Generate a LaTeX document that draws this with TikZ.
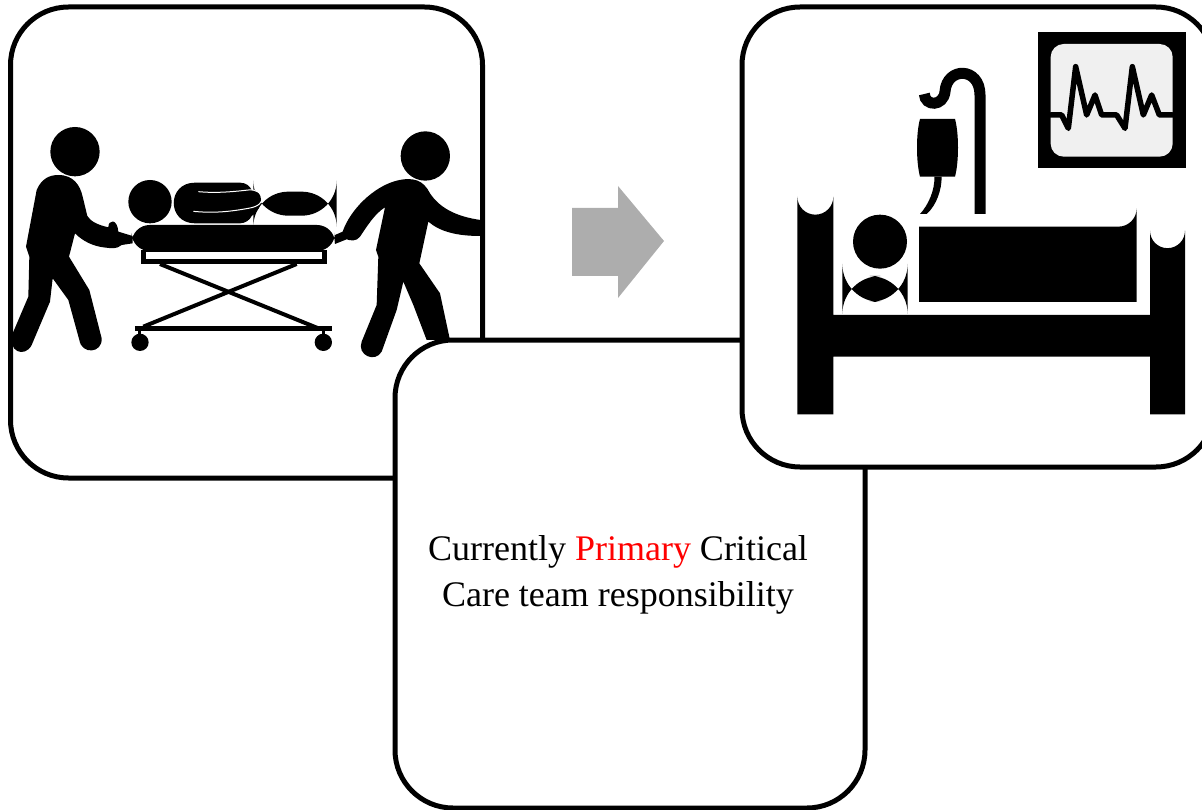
\documentclass[tikz,border=0pt]{standalone}
\usepackage{fontspec}
\setmainfont{Liberation Serif}
\usepackage{tikz}
\usepackage{xcolor}
\usetikzlibrary{positioning}
\definecolor{arrowgray}{HTML}{ADADAD}
\definecolor{screengray}{HTML}{F0F0F0}

\begin{document}
\begin{tikzpicture}[x=1pt,y=-1pt]
        \tikzstyle{panel}=[draw=black,line width=5pt,fill=white,rounded corners=58pt,inner sep=0pt]
        \tikzstyle{figure}=[fill=black,draw=none]
        \tikzstyle{tube}=[draw=black,line cap=round,line join=round]
        \useasboundingbox (0,0) rectangle (1202,810);
        % left panel
        \node [panel,minimum width=472pt,minimum height=471pt] (stretcher) at (246.5,242.5) {};
        \begin{scope}[shift={(0,110)},scale=1/3]
         \fill [figure] (225,125) circle (74);
         \fill [figure] (450,275) circle (65);
         \fill [figure] (110,240) .. controls (125,205) and (150,195) .. (175,195) .. controls (220,195) and (240,225) .. (248,260) -- (262,318) .. controls (272,335) and (295,345) .. (325,352) .. controls (325,328) and (352,325) .. (355,365) -- (398,378) -- (398,400) -- (365,405) .. controls (350,418) and (335,415) .. (310,412) .. controls (280,408) and (250,395) .. (225,370) -- (207,440) -- (268,540) -- (305,685) .. controls (308,730) and (245,735) .. (238,690) -- (205,570) -- (158,505) -- (150,575) -- (95,705) .. controls (75,745) and (20,725) .. (38,670) -- (85,560) -- (88,440) -- (78,410) -- cycle;
         \fill [figure] (1190,212) .. controls (1240,200) and (1270,210) .. (1290,250) .. controls (1320,295) and (1370,320) .. (1442,330) -- (1442,378) .. controls (1370,378) and (1320,365) .. (1285,335) -- (1258,460) -- (1320,550) -- (1350,690) -- (1280,690) -- (1240,585) -- (1210,515) -- (1190,600) -- (1145,725) .. controls (1125,760) and (1070,735) .. (1085,695) -- (1130,585) -- (1135,440) -- (1128,420) -- (1155,292) .. controls (1125,310) and (1100,350) .. (1080,380) .. controls (1070,395) and (1050,392) .. (1040,388) -- (1005,402) -- (1005,375) -- (1028,365) .. controls (1050,300) and (1120,230) .. (1190,212);
         \fill [figure] (1276,138) circle (74);
         % stretcher
         \fill [figure,rounded corners=18pt] (395,345) rectangle (1005,423);
         \fill [figure] (422,420) rectangle (980,462);
         \fill [white] (437,427) rectangle (965,448);
         \draw [line width=4pt] (480,462) -- (955,655);
         \draw [line width=4pt] (890,462) -- (430,650);
         \draw [line width=4.5pt] (405,655) -- (997,655);
         \draw [line width=3pt] (420,655) -- (420,680);
         \draw [line width=3pt] (970,655) -- (970,680);
         \fill [figure] (420,697) circle (26);
         \fill [figure] (970,697) circle (26);
         % patient
         \fill [figure,rounded corners=35pt] (760,245) rectangle (1010,317);
         \fill [figure] (585,218) -- (720,218) .. controls (740,218) and (750,230) .. (755,240) .. controls (790,240) and (795,290) .. (755,318) .. controls (750,330) and (735,340) .. (720,340) -- (585,340) .. controls (500,340) and (500,218) .. (585,218);
         \draw [white,line width=1pt] (595,245) .. controls (650,250) and (700,245) .. (745,240) .. controls (790,235) and (810,285) .. (745,295) .. controls (690,305) and (640,310) .. (580,304);
        \end{scope}
        % arrow
        \fill [arrowgray] (572,208) -- (618,208) -- (618,186) -- (664,241) -- (618,298) -- (618,276) -- (572,276) -- cycle;
        % middle panel
        \node [panel,minimum width=470pt,minimum height=468pt] (text) at (630,574) {};
        \node [font=\fontsize{36}{46}\selectfont,align=center,inner sep=0pt] (caption) at (618,575) {Currently \textcolor{red}{Primary} Critical\\Care team responsibility};
        % right panel
        \node [panel,minimum width=472pt,minimum height=460pt] (bed) at (978,237) {};
        \begin{scope}[shift={(780,20)},scale=1/3]
         \fill [figure,rounded corners=0pt] (52,1183) -- (52,530) arc (180:0:54) -- (160,885) -- (1110,885) -- (1110,632) arc (180:0:52.5) -- (1215,1183) -- (1110,1183) -- (1110,1010) -- (160,1010) -- (160,1183) -- cycle;
         \fill [figure] (300,665) circle (81);
         \fill [figure,rounded corners=38pt] (187,768) rectangle (383,846);
         \fill [figure] (417,620) -- (1015,620) arc (90:0:55) -- (1070,846) -- (417,846) -- cycle;
         % pole and bag
         \draw [line width=11pt] (600,582) -- (600,225) .. controls (600,140) and (500,140) .. (495,215) .. controls (490,260) and (435,260) .. (433,222);
         \fill [figure] (420,297) -- (525,297) .. controls (537,340) and (537,425) .. (525,470) -- (420,470) .. controls (408,425) and (408,340) .. (420,297);
         \fill [figure] (463,470) -- (485,470) .. controls (485,510) and (470,555) .. (440,582) -- (420,582) .. controls (445,555) and (465,510) .. (463,470);
         % monitor
         \fill [figure] (773,35) rectangle (1217,443);
         \fill [screengray,rounded corners=13pt] (812,72) rectangle (1178,410);
         \draw [tube,line width=5.5pt] (812,285) -- (845,285) -- (865,325) -- (887,140) -- (920,285) -- (945,225) -- (965,285) -- (1010,285) -- (1035,325) -- (1057,140) -- (1090,285) -- (1115,225) -- (1138,285) -- (1178,285);
        \end{scope}
      \end{tikzpicture}
\end{document}
